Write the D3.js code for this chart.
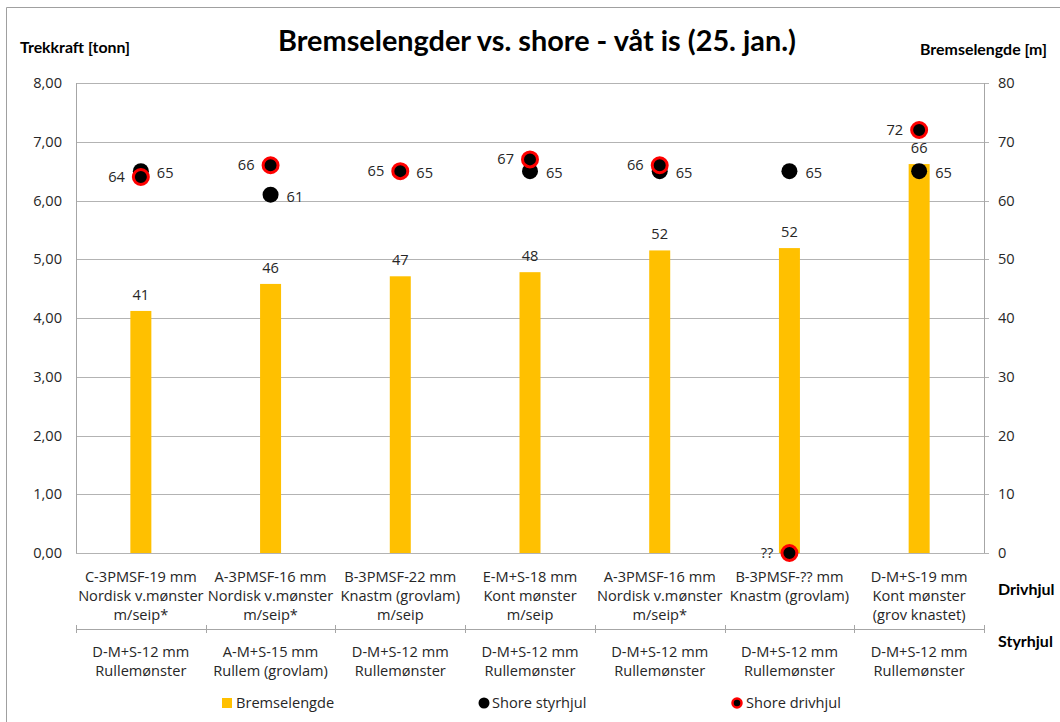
<!DOCTYPE html>
<html>
<head>
<meta charset="utf-8">
<script src="https://cdn.jsdelivr.net/npm/d3@7"></script>
<style>
  html, body { margin: 0; padding: 0; background: #fff; }
  svg text { fill: #262626; }
</style>
</head>
<body>
<svg id="chart" width="1060" height="722"></svg>
<script>
// ---- data ----
const drivhjulCats = [
  ["C-3PMSF-19 mm", "Nordisk v.mønster", "m/seip*"],
  ["A-3PMSF-16 mm", "Nordisk v.mønster", "m/seip*"],
  ["B-3PMSF-22 mm", "Knastm (grovlam)", "m/seip"],
  ["E-M+S-18 mm", "Kont mønster", "m/seip"],
  ["A-3PMSF-16 mm", "Nordisk v.mønster", "m/seip*"],
  ["B-3PMSF-?? mm", "Knastm (grovlam)"],
  ["D-M+S-19 mm", "Kont mønster", "(grov knastet)"]
];
const styrhjulCats = [
  ["D-M+S-12 mm", "Rullemønster"],
  ["A-M+S-15 mm", "Rullem (grovlam)"],
  ["D-M+S-12 mm", "Rullemønster"],
  ["D-M+S-12 mm", "Rullemønster"],
  ["D-M+S-12 mm", "Rullemønster"],
  ["D-M+S-12 mm", "Rullemønster"],
  ["D-M+S-12 mm", "Rullemønster"]
];
const bremselengde = [41.2, 45.8, 47.1, 47.8, 51.5, 51.9, 66.2];
const shoreStyrhjul = [65, 61, 65, 65, 65, 65, 65];
const shoreDrivhjul = [64, 66, 65, 67, 66, 0, 72];
const shoreDrivhjulLabels = ["64", "66", "65", "67", "66", "??", "72"];
const leftTicks = [0, 1, 2, 3, 4, 5, 6, 7, 8];
const rightTicks = [0, 10, 20, 30, 40, 50, 60, 70, 80];
const seriesNames = ["Bremselengde", "Shore styrhjul", "Shore drivhjul"];
const title = "Bremselengder vs. shore - våt is (25. jan.)";

// ---- layout ----
const svg = d3.select("#chart");
const L = 76, R = 984, T = 83, B = 553;
const font = "'Open Sans', sans-serif";
const boldFont = "Lato, sans-serif";
const fs = "14.6px";

const idx = d3.range(drivhjulCats.length);
const x = d3.scaleBand().domain(idx).range([L, R]);
const yL = d3.scaleLinear().domain([0, 8]).range([B, T]);
const yR = d3.scaleLinear().domain([0, 80]).range([B, T]);

// outer frame (top & left visible)
svg.append("line").attr("x1", 6.5).attr("x2", 1060).attr("y1", 7.5).attr("y2", 7.5)
  .attr("stroke", "#a0a0a0").attr("stroke-width", 1);
svg.append("line").attr("x1", 6.5).attr("x2", 6.5).attr("y1", 7.5).attr("y2", 722)
  .attr("stroke", "#a0a0a0").attr("stroke-width", 1);

// title
svg.append("text").attr("x", 537).attr("y", 51).attr("text-anchor", "middle")
  .attr("textLength", 518).attr("lengthAdjust", "spacingAndGlyphs")
  .style("font-family", boldFont).style("font-weight", "bold").style("font-size", "28px")
  .style("fill", "#000").text(title);

svg.append("text").attr("x", 20).attr("y", 53)
  .attr("textLength", 110).attr("lengthAdjust", "spacingAndGlyphs")
  .style("font-family", boldFont).style("font-weight", "bold").style("font-size", "15px")
  .style("fill", "#000").text("Trekkraft [tonn]");
svg.append("text").attr("x", 920).attr("y", 55)
  .attr("textLength", 127).attr("lengthAdjust", "spacingAndGlyphs")
  .style("font-family", boldFont).style("font-weight", "bold").style("font-size", "15px")
  .style("fill", "#000").text("Bremselengde [m]");

// gridlines
svg.append("g").selectAll("line").data(rightTicks).join("line")
  .attr("x1", L).attr("x2", R + 5)
  .attr("y1", d => Math.round(yR(d)) + 0.5).attr("y2", d => Math.round(yR(d)) + 0.5)
  .attr("stroke", "#b3b3b3").attr("stroke-width", 1);

// axes lines
svg.append("line").attr("x1", L + 0.5).attr("x2", L + 0.5).attr("y1", T).attr("y2", B)
  .attr("stroke", "#a6a6a6");
svg.append("line").attr("x1", R + 0.5).attr("x2", R + 0.5).attr("y1", T).attr("y2", B)
  .attr("stroke", "#a6a6a6");

// left tick labels
const fmtL = d => d3.format(".2f")(d).replace(".", ",");
svg.append("g").selectAll("text").data(leftTicks).join("text")
  .attr("x", 62).attr("y", d => yL(d) + 5).attr("text-anchor", "end")
  .style("font-family", font).style("font-size", fs).text(fmtL);
// right tick labels
svg.append("g").selectAll("text").data(rightTicks).join("text")
  .attr("x", 998).attr("y", d => yR(d) + 5).attr("text-anchor", "start")
  .style("font-family", font).style("font-size", fs).text(d => d);

// bars
const barW = 21;
svg.append("g").selectAll("rect").data(bremselengde).join("rect")
  .attr("x", (d, i) => x(i) + x.bandwidth() / 2 - barW / 2)
  .attr("width", barW)
  .attr("y", d => yR(d)).attr("height", d => B - yR(d))
  .attr("fill", "#FFC000");
svg.append("g").selectAll("text").data(bremselengde).join("text")
  .attr("x", (d, i) => x(i) + x.bandwidth() / 2)
  .attr("y", d => yR(d) - 11).attr("text-anchor", "middle")
  .style("font-family", font).style("font-size", fs).text(d => d3.format(".0f")(d));

// shore styrhjul
const cx = i => x(i) + x.bandwidth() / 2;
svg.append("g").selectAll("circle").data(shoreStyrhjul).join("circle")
  .attr("cx", (d, i) => cx(i)).attr("cy", d => yR(d)).attr("r", 8)
  .attr("fill", "#000");
svg.append("g").selectAll("text").data(shoreStyrhjul).join("text")
  .attr("x", (d, i) => cx(i) + 16).attr("y", d => yR(d) + 7)
  .style("font-family", font).style("font-size", fs).text(d => d);

// shore drivhjul
svg.append("g").selectAll("circle").data(shoreDrivhjul).join("circle")
  .attr("cx", (d, i) => cx(i)).attr("cy", d => yR(d)).attr("r", 7.5)
  .attr("fill", "#000").attr("stroke", "#ff0000").attr("stroke-width", 3);
svg.append("g").selectAll("text").data(shoreDrivhjul).join("text")
  .attr("x", (d, i) => cx(i) - 16).attr("y", d => yR(d) + 5).attr("text-anchor", "end")
  .style("font-family", font).style("font-size", fs)
  .text((d, i) => shoreDrivhjulLabels[i]);

// category labels level 1
const catG = svg.append("g");
drivhjulCats.forEach((lines, i) => {
  lines.forEach((ln, j) => {
    catG.append("text").attr("x", cx(i)).attr("y", 582 + j * 19).attr("text-anchor", "middle")
      .style("font-family", font).style("font-size", fs).text(ln);
  });
});
// divider line
svg.append("line").attr("x1", L).attr("x2", R + 1).attr("y1", 629.5).attr("y2", 629.5)
  .attr("stroke", "#a6a6a6");
svg.append("g").selectAll("line").data(d3.range(drivhjulCats.length + 1)).join("line")
  .attr("x1", i => Math.round(L + i * x.bandwidth()) + 0.5)
  .attr("x2", i => Math.round(L + i * x.bandwidth()) + 0.5)
  .attr("y1", 625).attr("y2", 633).attr("stroke", "#a6a6a6");
// level 2
styrhjulCats.forEach((lines, i) => {
  lines.forEach((ln, j) => {
    catG.append("text").attr("x", cx(i)).attr("y", 657 + j * 19).attr("text-anchor", "middle")
      .style("font-family", font).style("font-size", fs).text(ln);
  });
});
svg.append("text").attr("x", 998).attr("y", 595)
  .style("font-family", boldFont).style("font-weight", "bold").style("font-size", "16px")
  .style("fill", "#000").text("Drivhjul");
svg.append("text").attr("x", 998).attr("y", 647)
  .style("font-family", boldFont).style("font-weight", "bold").style("font-size", "16px")
  .style("fill", "#000").text("Styrhjul");

// legend
const lg = svg.append("g");
const ly = 703;
lg.append("rect").attr("x", 222).attr("y", ly - 5).attr("width", 10).attr("height", 10).attr("fill", "#FFC000");
lg.append("text").attr("x", 236).attr("y", ly + 5).style("font-family", font).style("font-size", fs).text(seriesNames[0]);
lg.append("circle").attr("cx", 484).attr("cy", ly).attr("r", 5.5).attr("fill", "#000");
lg.append("text").attr("x", 492).attr("y", ly + 5).style("font-family", font).style("font-size", fs).text(seriesNames[1]);
lg.append("circle").attr("cx", 737).attr("cy", ly).attr("r", 4.5).attr("fill", "#000").attr("stroke", "#ff0000").attr("stroke-width", 2.5);
lg.append("text").attr("x", 746).attr("y", ly + 5).style("font-family", font).style("font-size", fs).text(seriesNames[2]);
</script>
</body>
</html>
